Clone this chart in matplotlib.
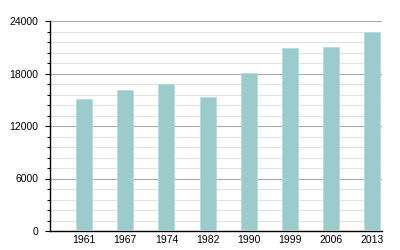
import matplotlib
matplotlib.use("Agg")
import matplotlib.pyplot as plt
from matplotlib.ticker import MultipleLocator

years = ["1961", "1967", "1974", "1982", "1990", "1999", "2006", "2013"]
population = [15100, 16100, 16800, 15300, 18050, 20950, 21030, 22750]

plt.rcParams['font.family'] = ['Liberation Sans', 'DejaVu Sans']

fig = plt.figure(figsize=(4, 2.5), dpi=100)
ax = fig.add_axes([0.125, 0.076, 0.83, 0.84])

x = range(len(years))
ax.bar(x, population, width=0.39, color='#9ccbcc', edgecolor='#b4dcdc', linewidth=0.6, zorder=3)

ax.set_xlim(-0.83, 7.24)
ax.set_ylim(0, 24000)
ax.set_xticks(list(x))
ax.set_xticklabels(years)
ax.yaxis.set_major_locator(MultipleLocator(6000))
ax.yaxis.set_minor_locator(MultipleLocator(1200))

ax.grid(axis='y', which='major', color='#aaaaaa', linewidth=0.8, zorder=0)
ax.grid(axis='y', which='minor', color='#e2e2e2', linewidth=0.8, zorder=0)

for s in ('top', 'right'):
    ax.spines[s].set_visible(False)
for s in ('left', 'bottom'):
    ax.spines[s].set_color('black')
    ax.spines[s].set_linewidth(1.0)

ax.tick_params(axis='x', length=0, labelsize=7.5, pad=3)
ax.tick_params(axis='y', which='major', length=3.6, width=0.8, labelsize=7.5, pad=5)
ax.tick_params(axis='y', which='minor', length=2, width=0.8)

fig.savefig("out.png", dpi=100)
